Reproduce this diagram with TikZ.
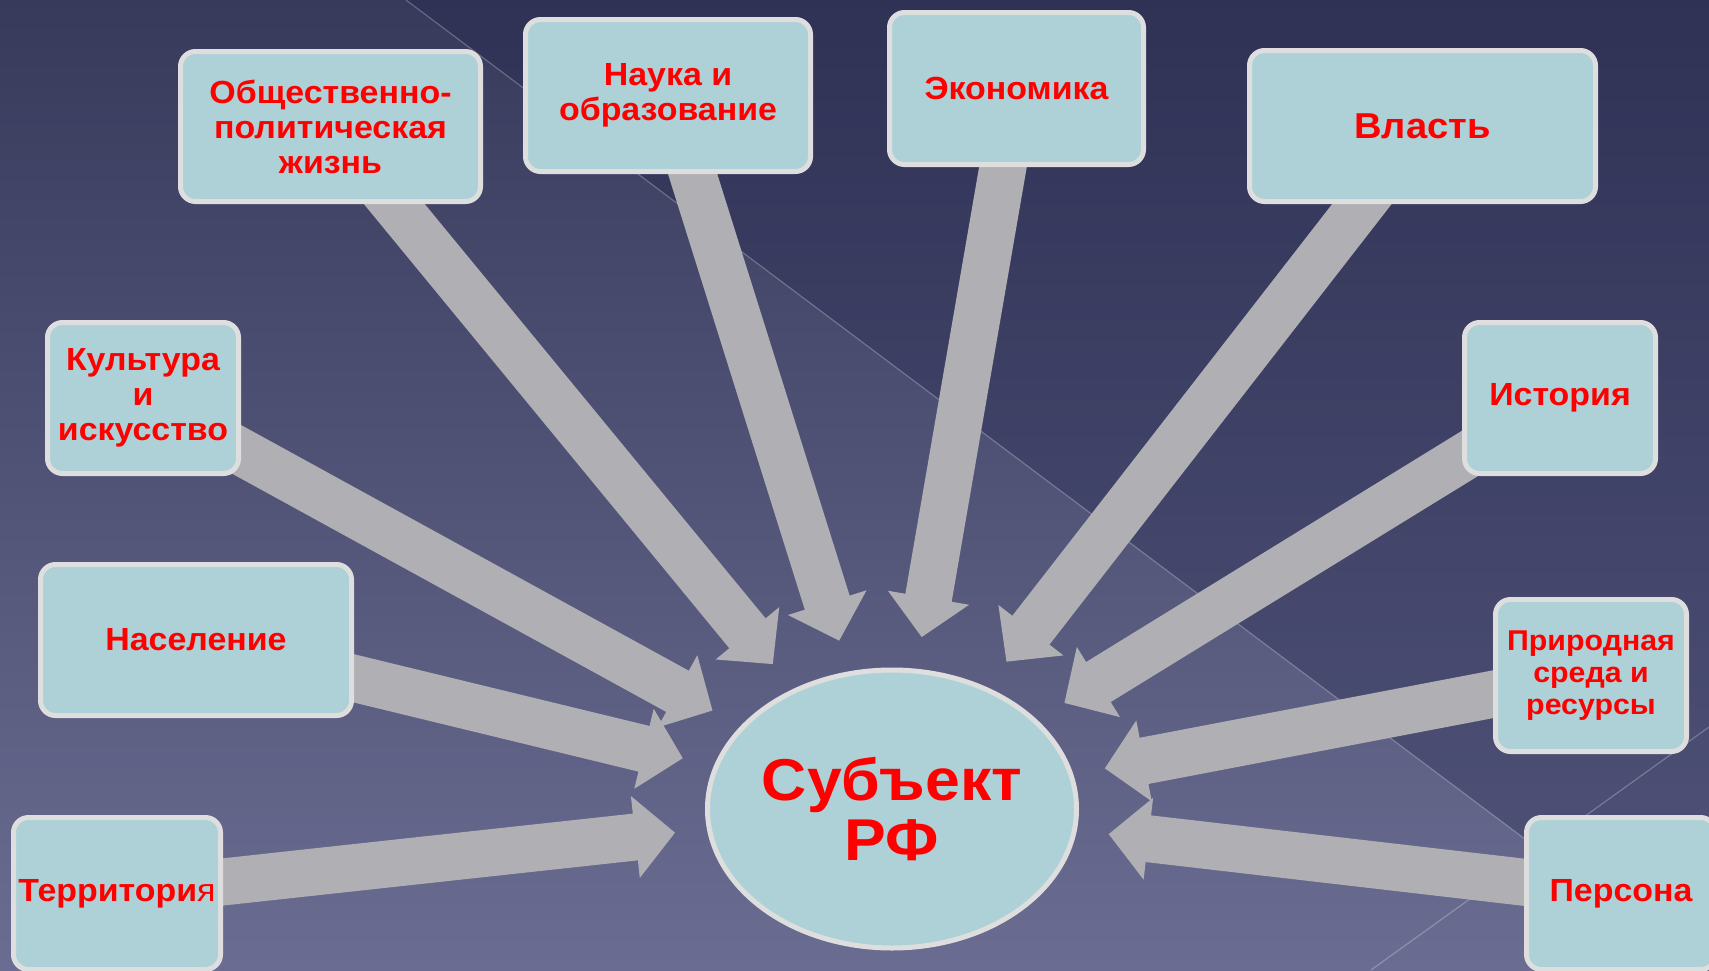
\documentclass[tikz,border=0pt]{standalone}
\usepackage{fontspec}
\setmainfont{Liberation Sans}[FakeStretch=1.06]
\usetikzlibrary{shapes.geometric,arrows.meta}
\pgfdeclarelayer{bg}
\pgfdeclarelayer{links}
\pgfsetlayers{bg,links,main}
\definecolor{boxfill}{HTML}{ADD1D6}
\definecolor{boxline}{HTML}{DEDEDE}
\definecolor{arrgrey}{HTML}{AFAFB4}
\definecolor{bgtop}{HTML}{383A5C}
\definecolor{bgbot}{HTML}{6A6D91}
\definecolor{bgdark}{HTML}{1C1E46}

\begin{document}
\begin{tikzpicture}[x=0.5pt,y=-0.5pt]
    \tikzset{
    box/.style={rectangle,rounded corners=7.5pt,fill=boxfill,draw=boxline,line width=2.5pt,text=red,
        font=\fontsize{16}{17.5}\selectfont\bfseries,align=center,inner sep=2pt},
    subj/.style={ellipse,fill=boxfill,draw=boxline,line width=2.5pt,text=red,
        font=\fontsize{29.5}{30}\selectfont\bfseries,align=center,inner sep=0pt,
        minimum width=184.5pt,minimum height=139pt},
    arr/.style={draw=arrgrey,line width=23.5pt,-{Triangle[width=40pt,length=20pt]},shorten >=16pt},
    }
    \useasboundingbox (0,0) rectangle (1709,970);
    % background
    \begin{pgfonlayer}{bg}
    \shade[top color=bgtop,bottom color=bgbot] (0,0) rectangle (1709,970);
    \fill[bgdark,opacity=0.3] (406,0) -- (1709,0) -- (1709,977) -- cycle;
    \draw[white,opacity=0.25,line width=0.6pt] (406,0) -- (1709,977);
    \draw[white,opacity=0.25,line width=0.6pt] (1709,727) -- (1371,970);
    \end{pgfonlayer}
    \node[subj] (s) at (892,809) {Субъект\\РФ};
    \node[box,minimum width=150pt,minimum height=75pt] (n1) at (330.5,126.5) {Общественно-\\политическая\\жизнь};
    \node[box,minimum width=142.5pt,minimum height=76pt] (n2) at (668,95.5) {Наука и\\образование};
    \node[box,minimum width=127pt,minimum height=76pt] (n3) at (1016.5,88.5) {Экономика};
    \node[box,minimum width=173pt,minimum height=75.5pt,font=\fontsize{18}{20}\selectfont\bfseries] (n4) at (1422.5,126) {Власть};
    \node[box,minimum width=95.5pt,minimum height=75.5pt] (n5) at (1560,398) {История};
    \node[box,minimum width=95.5pt,minimum height=76pt,font=\fontsize{14.3}{16}\selectfont\bfseries] (n6) at (1591,675.5) {Природная\\среда и\\ресурсы};
    \node[box,minimum width=94.5pt,minimum height=76pt] (n7) at (1621,893.5) {Персона};
    \node[box,minimum width=103.5pt,minimum height=76pt] (n8) at (117,893.5) {Территори{\mdseries я}};
    \node[box,minimum width=155.5pt,minimum height=75.5pt] (n9) at (196,640) {Население};
    \node[box,minimum width=95.5pt,minimum height=75.5pt] (n10) at (143,398) {Культура\\и\\искусство};
    % arrows into the centre
    \begin{pgfonlayer}{links}
    \foreach \i in {1,...,10}
        \draw[arr] (n\i.center) -- (s);
    \end{pgfonlayer}
\end{tikzpicture}
\end{document}
